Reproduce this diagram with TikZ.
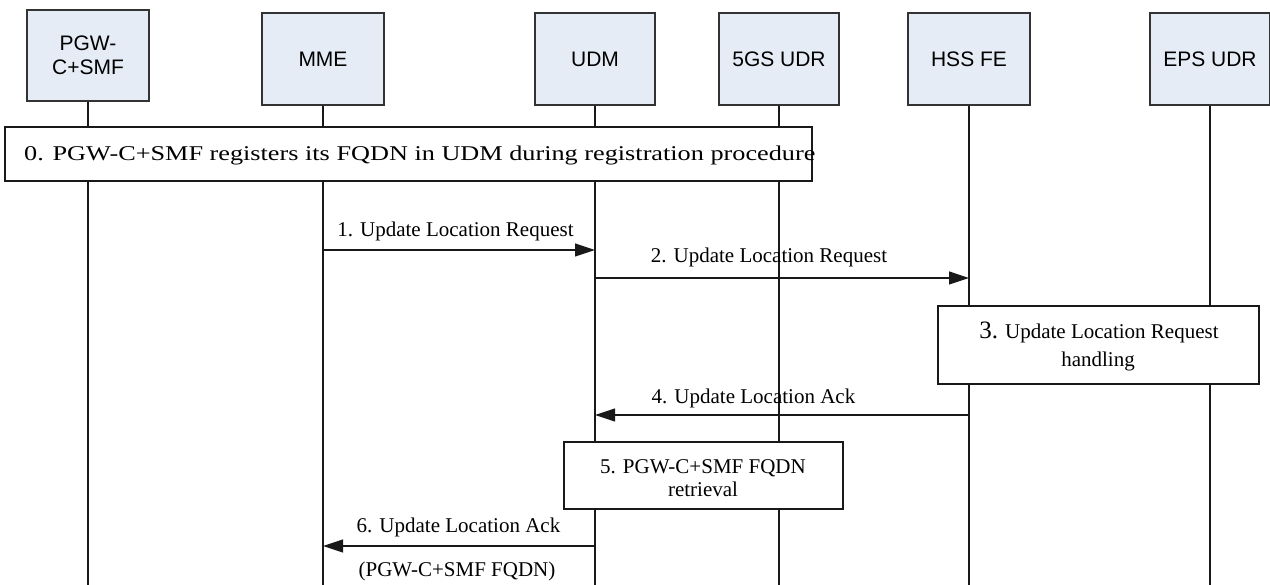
\documentclass[tikz,border=0pt]{standalone}
\usepackage{fontspec}
\usepackage{graphicx}
\setmainfont{Liberation Serif}
\newfontfamily\hdrfont{Liberation Sans}
\usetikzlibrary{arrows.meta}
\definecolor{hdrfill}{RGB}{230,236,246}
\begin{document}
\begin{tikzpicture}[x=1pt,y=-1pt,
  actor/.style={draw=black!80, fill=hdrfill, line width=1.1pt, inner sep=0pt,
    minimum width=121pt, minimum height=92pt, align=center,
    font=\hdrfont\fontsize{21}{24}\selectfont},
  life/.style={draw=black!90, line width=1.2pt},
  procbox/.style={draw=black!90, fill=white, line width=1.2pt, inner sep=0pt},
  msg/.style={draw=black!90, line width=1.2pt, -{Triangle[length=20pt,width=13pt]}},
  lbl/.style={anchor=base, inner sep=0pt, font=\fontsize{21}{24}\selectfont}]
\useasboundingbox (0,0) rectangle (1270,585);
\fill[white] (0,0) rectangle (1270,585);
% actors
\node[actor, minimum height=91pt, minimum width=122pt] (pgw) at (88,55.5) {PGW-\\C+SMF};
\node[actor, minimum width=122pt] (mme) at (323,59) {MME};
\node[actor, minimum width=120pt] (udm) at (595,59) {UDM};
\node[actor, minimum width=120pt] (udr5) at (779,59) {5GS UDR};
\node[actor, minimum width=122pt] (hss) at (969,59) {HSS FE};
\node[actor, minimum width=120pt] (eps) at (1210,59) {EPS UDR};
\coordinate (bot) at (0,585);
% lifelines
\foreach \n in {pgw,mme,udm,udr5,hss,eps}
  \draw[life] (\n.south) -- (\n.south |- bot);
% step 0
\node[procbox, minimum width=807pt, minimum height=54pt] (s0) at (408.5,154) {};
\node[anchor=base west, inner sep=0pt, font=\fontsize{21}{24}\selectfont] (t0) at (24,161)
  {\scalebox{1.25}[1]{0. PGW-C+SMF registers its FQDN in UDM during registration procedure}};
% message rows
\coordinate (r1) at (0,250);
\coordinate (r2) at (0,278);
\coordinate (r4) at (0,415);
\coordinate (r6) at (0,546);
\draw[msg] (mme |- r1) -- (udm |- r1);
\node[lbl] (l1) at (455.5,237) {1. Update Location Request};
\draw[msg] (udm |- r2) -- (hss |- r2);
\node[lbl] (l2) at (769,263) {2. Update Location Request};
% step 3
\node[procbox, minimum width=321pt, minimum height=78pt] (s3) at (1098.5,345) {};
\node[lbl] (t3a) at (1099,339) {{\fontsize{25}{28}\selectfont 3.}\hspace{7pt}Update Location Request};
\node[lbl] (t3b) at (1098,367) {handling};
% step 4
\draw[msg] (hss |- r4) -- (udm |- r4);
\node[lbl] (l4) at (753.5,403) {4. Update Location Ack};
% step 5
\node[procbox, minimum width=279pt, minimum height=67pt] (s5) at (703.5,475.5) {};
\node[lbl] (t5a) at (703,473) {5. PGW-C+SMF FQDN};
\node[lbl] (t5b) at (703,496) {retrieval};
% step 6
\draw[msg] (udm |- r6) -- (mme |- r6);
\node[lbl] (l6) at (458.5,532) {6. Update Location Ack};
\node[lbl] (l6b) at (457,576) {(PGW-C+SMF FQDN)};
\end{tikzpicture}
\end{document}
